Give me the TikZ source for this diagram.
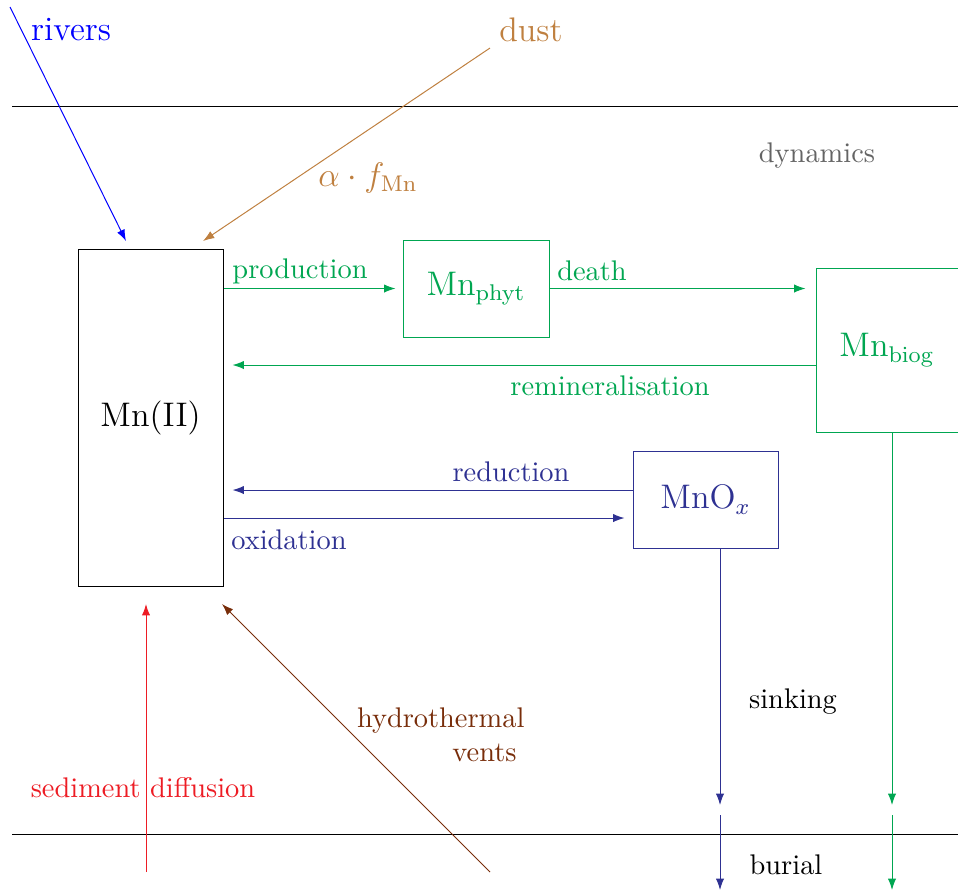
\documentclass[tikz,border=0pt]{standalone}
\usetikzlibrary{arrows.meta}
\definecolor{cgreen}{RGB}{0,166,81}
\definecolor{cnavy}{RGB}{46,49,146}
\definecolor{cdust}{RGB}{191,128,64}
\definecolor{cbrown}{RGB}{120,45,10}
\definecolor{cred}{RGB}{237,28,36}
\definecolor{cgray}{RGB}{100,100,100}
\def\upx{0.352pt}
\tikzset{
  arr/.style={-{Latex[length=4pt,width=2.9pt]}},
  pool/.style={draw, rectangle, inner sep=0pt, font=\large},
  lbl/.style={inner sep=0pt, font=\normalsize},
  big/.style={inner sep=0pt, font=\large},
}
\begin{document}
\begin{tikzpicture}[x=0.352pt,y=-0.352pt,line width=0.35pt]
\useasboundingbox (0,0) rectangle (958,892);
% layer lines
\coordinate (tl) at (12,106); \coordinate (tr) at (958,106);
\coordinate (bl) at (12,834); \coordinate (br) at (958,834);
\draw (tl) -- (tr);
\draw (bl) -- (br);
% pools
\node[pool, minimum width=145*\upx, minimum height=337*\upx] (mn) at (150.5,417.5) {Mn(II)};
\node[pool, cgreen, minimum width=146*\upx, minimum height=97*\upx] (phyt) at (476,288.5) {Mn$_{\mathrm{phyt}}$};
\node[pool, cgreen, minimum width=152*\upx, minimum height=164*\upx] (biog) at (892,350) {Mn$_{\mathrm{biog}}$\kern3.5pt};
\node[pool, cnavy, minimum width=145*\upx, minimum height=97*\upx] (mnox) at (705.5,499.5) {MnO$_x$};
% external sources
\coordinate (rvs) at (10,7); \coordinate (rve) at (126,241);
\draw[blue, arr] (rvs) -- (rve);
\node[big, blue] (rivers) at (71,30) {rivers};
\coordinate (dss) at (490,48); \coordinate (dse) at (203,241);
\draw[cdust, arr] (dss) -- (dse);
\node[big, cdust] (dust) at (531,30) {dust};
\node[big, cdust] (alpha) at (368,178) {$\alpha\cdot f_{\mathrm{Mn}}$};
\node[lbl, cgray] (dyn) at (817,156) {dynamics};
% biological cycle
\draw[cgreen, arr, shorten >=7*\upx] (mn.east |- phyt.west) -- (phyt.west);
\node[lbl, cgreen] (prod) at (300,271) {production};
\draw[cgreen, arr, shorten >=10*\upx] (phyt.east) -- (biog.west |- phyt.east);
\node[lbl, cgreen] (death) at (592,271) {death};
\draw[cgreen, arr, shorten >=9*\upx] (biog.west |- 0,365) -- (mn.east |- 0,365);
\node[lbl, cgreen] (remin) at (610,386) {remineralisation};
% redox
\draw[cnavy, arr, shorten >=9*\upx] (mnox.west |- 0,490) -- (mn.east |- 0,490);
\node[lbl, cnavy] (red) at (511,472) {reduction};
\draw[cnavy, arr, shorten >=8*\upx] (mn.east |- 0,518) -- (mnox.west |- 0,518);
\node[lbl, cnavy] (ox) at (289,540) {oxidation};
% sinking and burial
\coordinate (s1e) at (720,805); \coordinate (b1s) at (720,815); \coordinate (b1e) at (720,890);
\draw[cnavy, arr] (mnox.south -| s1e) -- (s1e);
\draw[cnavy, arr] (b1s) -- (b1e);
\coordinate (s2e) at (892,805); \coordinate (b2s) at (892,815); \coordinate (b2e) at (892,890);
\draw[cgreen, arr] (biog.south) -- (s2e);
\draw[cgreen, arr] (b2s) -- (b2e);
\node[lbl] (sink) at (793,702) {sinking};
\node[lbl] (burial) at (786,865) {burial};
% bottom sources
\coordinate (sds) at (146,872); \coordinate (sde) at (146,604);
\draw[cred, arr] (sds) -- (sde);
\node[lbl, cred] (sed) at (143,788) {sediment diffusion};
\coordinate (hvs) at (490,872); \coordinate (hve) at (222,604);
\draw[cbrown, arr] (hvs) -- (hve);
\node[lbl, cbrown, align=right, anchor=east] (hydro) at (525,735) {hydrothermal\\vents\kern2.8pt};
\end{tikzpicture}
\end{document}
